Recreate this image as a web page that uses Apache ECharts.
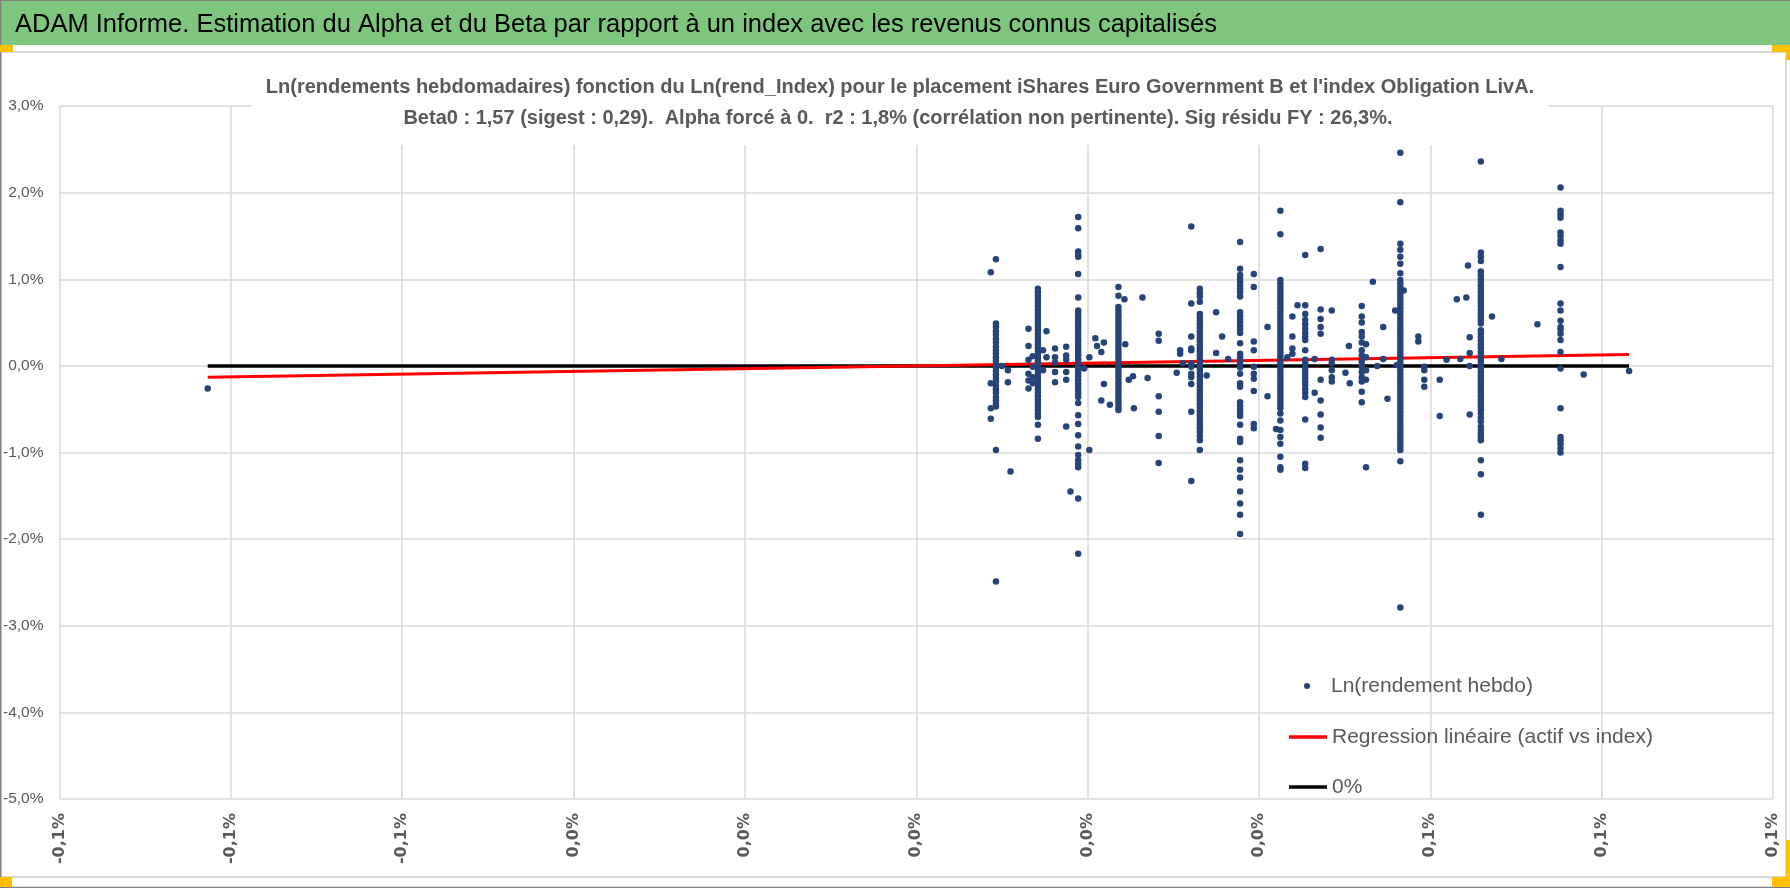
<!DOCTYPE html>
<html>
<head>
<meta charset="utf-8">
<title>ADAM Informe - Alpha et Beta</title>
<script src="https://cdn.jsdelivr.net/npm/echarts@6/dist/echarts.min.js"></script>
<style>
  html, body { margin: 0; padding: 0; background: #fff; }
  #chart { width: 1790px; height: 888px; }
</style>
</head>
<body>
<div id="chart"></div>
<script>
// Ln(rend_Index) en %, une valeur par colonne de points
const indexRet = [
  -0.0827, 0.0087, 0.0093, 0.0100, 0.0107, 0.0110, 0.0131, 0.0136, 0.0142, 0.0148,
  0.0152, 0.0162, 0.0175, 0.0180, 0.0189, 0.0196, 0.0202, 0.0209, 0.0211, 0.0216,
  0.0219, 0.0226, 0.0236, 0.0243, 0.0244, 0.0248, 0.0253, 0.0254, 0.0264, 0.0270,
  0.0283, 0.0304, 0.0308, 0.0311, 0.0321, 0.0331, 0.0339, 0.0350, 0.0357, 0.0364,
  0.0378, 0.0394, 0.0410, 0.0420, 0.0425, 0.0433, 0.0439, 0.0445, 0.0454, 0.0465,
  0.0472, 0.0485, 0.0501, 0.0505, 0.0506, 0.0520, 0.0525, 0.0533, 0.0538, 0.0545,
  0.0550, 0.0559, 0.0561, 0.0565, 0.0569, 0.0586, 0.0593, 0.0611, 0.0619, 0.0631,
  0.0635, 0.0642, 0.0644, 0.0646, 0.0659, 0.0672, 0.0683, 0.0725, 0.0752, 0.0779,
  0.0832
];
// Ln(rendement hebdo) en %, pour chaque colonne ci-dessus
const assetRet = [
  [-0.26],
  [1.08, -0.20, -0.49, -0.61],
  [1.23, 0.49, 0.45, 0.40, 0.36, 0.31, 0.27, 0.22, 0.18, 0.14, 0.10, 0.06, 0.02, -0.02, -0.06, -0.10, -0.14, -0.18, -0.23, -0.27, -0.31, -0.36, -0.40, -0.44, -0.47, -0.97, -2.49],
  [0.00],
  [-0.05, -0.19],
  [-1.22],
  [0.43, 0.23, 0.07, -0.09, -0.17, -0.26],
  [0.11, -0.01, -0.13, -0.20],
  [0.89, 0.85, 0.81, 0.77, 0.73, 0.69, 0.65, 0.61, 0.57, 0.53, 0.49, 0.45, 0.41, 0.37, 0.33, 0.29, 0.25, 0.21, 0.17, 0.13, 0.09, 0.05, 0.01, -0.03, -0.07, -0.11, -0.15, -0.19, -0.23, -0.27, -0.31, -0.35, -0.39, -0.43, -0.47, -0.51, -0.55, -0.59, -0.68, -0.84],
  [0.18, -0.05],
  [0.40, 0.10],
  [0.20, 0.10, 0.04, -0.07, -0.19],
  [0.22, 0.12, 0.07, -0.07, -0.16, -0.70],
  [-1.45],
  [1.72, 1.59, 1.32, 1.28, 1.26, 1.06, 0.79, 0.64, 0.60, 0.56, 0.52, 0.48, 0.44, 0.40, 0.36, 0.32, 0.28, 0.24, 0.20, 0.16, 0.12, 0.08, 0.04, 0.00, -0.04, -0.08, -0.12, -0.16, -0.20, -0.24, -0.28, -0.32, -0.36, -0.43, -0.57, -0.67, -0.80, -0.93, -1.03, -1.09, -1.13, -1.17, -1.53, -2.17],
  [-0.03],
  [0.10, -0.97],
  [0.32],
  [0.23],
  [0.16, -0.40],
  [0.27, -0.21],
  [-0.45],
  [0.91, 0.81, 0.68, 0.64, 0.60, 0.56, 0.52, 0.48, 0.44, 0.40, 0.36, 0.32, 0.28, 0.24, 0.20, 0.16, 0.12, 0.08, 0.04, 0.00, -0.04, -0.08, -0.12, -0.16, -0.20, -0.24, -0.28, -0.32, -0.36, -0.40, -0.44, -0.48, -0.51],
  [0.77],
  [0.25],
  [-0.16],
  [-0.12],
  [-0.49],
  [0.79],
  [-0.14],
  [0.37, 0.29, -0.35, -0.53, -0.81, -1.12],
  [-0.08],
  [0.18, 0.14],
  [0.03],
  [1.61, 0.72, 0.34, 0.20, 0.18, 0.03, -0.01, -0.09, -0.13, -0.21, -0.53, -1.33],
  [0.89, 0.84, 0.80, 0.74, 0.60, 0.56, 0.52, 0.48, 0.44, 0.40, 0.36, 0.32, 0.28, 0.24, 0.20, 0.16, 0.12, 0.08, 0.04, 0.00, -0.04, -0.08, -0.12, -0.16, -0.20, -0.24, -0.28, -0.32, -0.36, -0.40, -0.44, -0.48, -0.52, -0.56, -0.60, -0.64, -0.68, -0.72, -0.76, -0.81, -0.86, -0.97],
  [-0.11],
  [0.62, 0.15],
  [0.34],
  [0.08],
  [1.43, 1.12, 1.05, 1.01, 0.97, 0.93, 0.89, 0.85, 0.80, 0.62, 0.58, 0.54, 0.50, 0.46, 0.42, 0.38, 0.26, 0.14, 0.10, 0.06, 0.02, -0.02, -0.09, -0.20, -0.24, -0.42, -0.46, -0.50, -0.54, -0.58, -0.68, -0.84, -0.88, -1.09, -1.20, -1.29, -1.45, -1.59, -1.72, -1.94],
  [1.06, 0.91, 0.28, 0.18, -0.01, -0.09, -0.15, -0.29, -0.67, -0.72],
  [0.45, -0.35],
  [-0.73],
  [1.79, 1.52, 0.99, 0.95, 0.91, 0.87, 0.83, 0.79, 0.75, 0.71, 0.67, 0.63, 0.59, 0.55, 0.51, 0.47, 0.43, 0.39, 0.35, 0.31, 0.27, 0.23, 0.19, 0.15, 0.11, 0.07, 0.03, -0.01, -0.05, -0.09, -0.13, -0.17, -0.21, -0.25, -0.29, -0.33, -0.37, -0.41, -0.45, -0.49, -0.55, -0.63, -0.74, -0.82, -0.90, -1.05, -1.17, -1.20],
  [0.10],
  [0.57, 0.34, 0.20, 0.14],
  [0.70],
  [1.28, 0.70, 0.60, 0.53, 0.48, 0.43, 0.38, 0.34, 0.30, 0.18, 0.07, 0.03, -0.02, -0.06, -0.10, -0.14, -0.18, -0.22, -0.27, -0.31, -0.36, -0.62, -1.13, -1.18],
  [0.08, -0.31],
  [1.35, 0.65, 0.54, 0.45, 0.37, -0.16, -0.40, -0.56, -0.71, -0.83],
  [0.64, 0.07, 0.03, -0.05, -0.13, -0.18],
  [-0.08],
  [0.23],
  [-0.20],
  [0.69, 0.57, 0.50, 0.39, 0.34, 0.27, 0.18, 0.12, 0.05, -0.01, -0.07, -0.13, -0.18, -0.30, -0.42],
  [0.25, 0.10, -0.05, -0.16, -1.17],
  [0.97],
  [0.00],
  [0.45, 0.08],
  [-0.38],
  [0.64],
  [0.01],
  [2.46, 1.89, 1.41, 1.34, 1.26, 1.18, 1.07, 0.99, 0.95, 0.91, 0.87, 0.83, 0.79, 0.75, 0.71, 0.67, 0.63, 0.59, 0.55, 0.51, 0.47, 0.43, 0.39, 0.35, 0.31, 0.27, 0.23, 0.19, 0.15, 0.11, 0.07, 0.03, -0.01, -0.05, -0.09, -0.13, -0.17, -0.21, -0.25, -0.29, -0.33, -0.37, -0.41, -0.45, -0.49, -0.53, -0.57, -0.61, -0.65, -0.69, -0.73, -0.77, -0.81, -0.85, -0.89, -0.93, -0.97, -1.10, -2.79],
  [0.87],
  [0.34, 0.28],
  [-0.01, -0.05, -0.16, -0.24],
  [-0.16, -0.58],
  [0.07],
  [0.77],
  [0.08],
  [0.79],
  [1.16],
  [0.33, 0.15, 0.00, -0.56],
  [2.36, 1.31, 1.26, 1.21, 1.09, 1.05, 1.01, 0.97, 0.93, 0.89, 0.85, 0.81, 0.77, 0.73, 0.69, 0.65, 0.61, 0.57, 0.53, 0.49, 0.41, 0.37, 0.33, 0.29, 0.25, 0.21, 0.17, 0.13, 0.09, 0.05, 0.01, -0.03, -0.07, -0.11, -0.15, -0.19, -0.23, -0.27, -0.31, -0.35, -0.39, -0.43, -0.47, -0.51, -0.55, -0.60, -0.64, -0.70, -0.74, -0.78, -0.82, -0.86, -1.09, -1.25, -1.72],
  [0.57],
  [0.08],
  [0.48],
  [2.06, 1.79, 1.75, 1.71, 1.54, 1.50, 1.45, 1.41, 1.14, 0.72, 0.64, 0.52, 0.45, 0.42, 0.37, 0.30, 0.16, -0.03, -0.49, -0.82, -0.86, -0.90, -0.95, -1.00],
  [-0.10],
  [-0.06]
];
// droite de regression et ligne 0%
const regX = [-0.0827, 0.0832];
const regY = [-0.13, 0.13];
const zeroY = [0, 0];

const xTicks = { min: -0.1, max: 0.1, step: 0.02 };
const yTicks = { min: -5, max: 3, step: 1 };

const titre = 'ADAM Informe. Estimation du Alpha et du Beta par rapport à un index avec les revenus connus capitalisés';
const sousTitre1 = "Ln(rendements hebdomadaires) fonction du Ln(rend_Index) pour le placement iShares Euro Government B et l'index Obligation LivA.";
const sousTitre2 = 'Beta0 : 1,57 (sigest : 0,29).  Alpha forcé à 0.  r2 : 1,8% (corrélation non pertinente). Sig résidu FY : 26,3%.';

const FONT = '"Liberation Sans", Arial, sans-serif';
const GREY = '#595959';

const points = [];
indexRet.forEach((x, i) => {
  assetRet[i].forEach(y => points.push([x, y]));
});

function pct(v) {
  let r = Math.round(v * 10) / 10;
  if (r === 0) r = 0;
  return r.toFixed(1).replace('.', ',') + '%';
}

const chart = echarts.init(document.getElementById('chart'));
chart.setOption({
  animation: false,
  backgroundColor: '#fff',
  grid: { left: 59.5, right: 17, top: 106, bottom: 89, containLabel: false, outerBoundsMode: 'none' },
  title: {
    text: titre,
    left: 10,
    top: 7,
    textStyle: { fontFamily: FONT, fontSize: 25.5, fontWeight: 'normal', color: '#000' }
  },
  legend: [
    {
      left: 1304,
      top: 671,
      padding: 0,
      itemWidth: 38,
      itemHeight: 6,
      textStyle: { fontFamily: FONT, fontSize: 21, color: GREY, lineHeight: 30 },
      data: [{ name: 'Ln(rendement hebdo)', icon: 'circle' }]
    },
    {
      orient: 'vertical',
      left: 1289,
      top: 722,
      padding: 0,
      itemWidth: 38,
      itemHeight: 3.5,
      itemGap: 20,
      textStyle: { fontFamily: FONT, fontSize: 21, color: GREY, lineHeight: 30 },
      data: [
        { name: 'Regression linéaire (actif vs index)', icon: 'rect' },
        { name: '0%', icon: 'rect' }
      ]
    }
  ],
  xAxis: {
    type: 'value',
    min: xTicks.min,
    max: xTicks.max,
    interval: xTicks.step,
    axisLine: { show: false },
    axisTick: { show: false },
    splitLine: { lineStyle: { color: '#D9D9D9', width: 1.5 } },
    axisLabel: {
      rotate: 90,
      margin: 14,
      formatter: pct,
      fontFamily: '"DejaVu Sans", sans-serif',
      fontWeight: 'bold',
      fontSize: 16,
      color: GREY
    }
  },
  yAxis: {
    type: 'value',
    min: yTicks.min,
    max: yTicks.max,
    interval: yTicks.step,
    axisLine: { show: false },
    axisTick: { show: false },
    splitLine: { lineStyle: { color: '#D9D9D9', width: 1.5 } },
    axisLabel: {
      margin: 16,
      formatter: v => v.toFixed(1).replace('.', ',') + '%',
      fontFamily: FONT,
      fontSize: 15.5,
      color: GREY
    }
  },
  series: [
    {
      name: 'Ln(rendement hebdo)',
      type: 'scatter',
      symbol: 'circle',
      symbolSize: 6.5,
      itemStyle: { color: '#264478', opacity: 1 },
      z: 4,
      data: points
    },
    {
      name: 'Regression linéaire (actif vs index)',
      type: 'line',
      symbol: 'none',
      lineStyle: { color: '#FF0000', width: 3 },
      itemStyle: { color: '#FF0000' },
      z: 3,
      data: regX.map((x, i) => [x, regY[i]])
    },
    {
      name: '0%',
      type: 'line',
      symbol: 'none',
      lineStyle: { color: '#000', width: 3.5 },
      itemStyle: { color: '#000' },
      z: 2,
      data: regX.map((x, i) => [x, zeroY[i]])
    }
  ],
  graphic: [
    // bandeau vert du titre
    { type: 'rect', z: -10, shape: { x: 0, y: 0, width: 1790, height: 45 }, style: { fill: '#7EC67E' } },
    { type: 'line', z: 50, shape: { x1: 0, y1: 0.5, x2: 1790, y2: 0.5 }, style: { stroke: '#7F7F7F', lineWidth: 1 } },
    // cadre du graphique
    { type: 'rect', z: 50, shape: { x: 1, y: 52, width: 1785, height: 825 }, style: { fill: null, stroke: '#D9D9D9', lineWidth: 2 } },
    { type: 'line', z: 51, shape: { x1: 0.5, y1: 0, x2: 0.5, y2: 888 }, style: { stroke: '#7F7F7F', lineWidth: 1.5 } },
    { type: 'line', z: 51, shape: { x1: 0, y1: 887.5, x2: 1790, y2: 887.5 }, style: { stroke: '#7F7F7F', lineWidth: 1.5 } },
    // poignées de sélection
    { type: 'rect', z: 52, shape: { x: 0, y: 45, width: 13, height: 7 }, style: { fill: '#FFC000' } },
    { type: 'rect', z: 52, shape: { x: 1772, y: 45, width: 18, height: 7 }, style: { fill: '#FFC000' } },
    { type: 'rect', z: 52, shape: { x: 1786, y: 52, width: 4, height: 8 }, style: { fill: '#FFC000' } },
    { type: 'rect', z: 52, shape: { x: 0, y: 877, width: 12, height: 10 }, style: { fill: '#FFC000' } },
    { type: 'rect', z: 52, shape: { x: 1772, y: 877, width: 18, height: 10 }, style: { fill: '#FFC000' } },
    { type: 'rect', z: 52, shape: { x: 1786, y: 840, width: 4, height: 37 }, style: { fill: '#FFC000' } },
    // sous-titre sur fond blanc
    { type: 'rect', z: 20, shape: { x: 252, y: 66, width: 1296, height: 79 }, style: { fill: '#fff' } },
    {
      type: 'text', z: 21, x: 900, y: 87,
      style: { text: sousTitre1, fill: GREY, font: 'bold 20px ' + FONT, textAlign: 'center', textVerticalAlign: 'middle' }
    },
    {
      type: 'text', z: 21, x: 898, y: 118,
      style: { text: sousTitre2, fill: GREY, font: 'bold 20px ' + FONT, textAlign: 'center', textVerticalAlign: 'middle' }
    }
  ]
});
</script>
</body>
</html>
